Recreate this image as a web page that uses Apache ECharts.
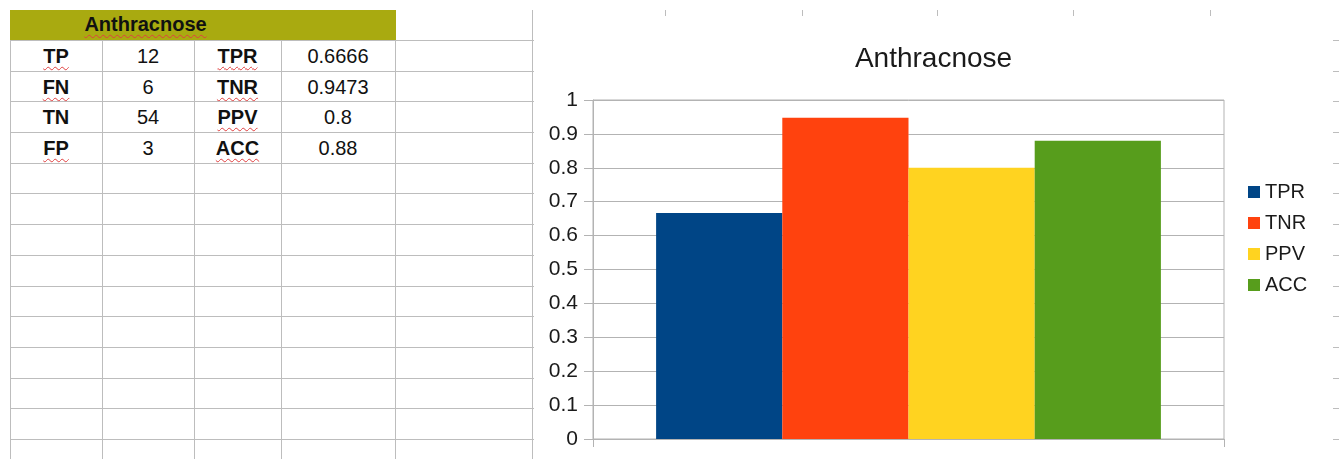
<!DOCTYPE html>
<html>
<head>
<meta charset="utf-8">
<title>Anthracnose</title>
<script src="https://cdn.jsdelivr.net/npm/echarts@6/dist/echarts.min.js"></script>
<style>
  html, body { margin: 0; padding: 0; background: #fff; }
  body { width: 1339px; height: 459px; position: relative; overflow: hidden;
         font-family: "Liberation Sans", Arial, sans-serif; }
  #sheet { position: absolute; left: 0; top: 0; width: 1339px; height: 459px; }
  .hl { position: absolute; height: 1px; background: #bdbdbd; }
  .vl { position: absolute; width: 1px; background: #bdbdbd; }
  .fill { position: absolute; background: #a9aa10; }
  .cell { position: absolute; display: flex; align-items: center; justify-content: center;
          font-size: 20px; color: #111; white-space: nowrap; }
  .b { font-weight: bold; }
  .sp { text-decoration: underline wavy #e04040; text-decoration-thickness: 1px;
        text-underline-offset: 3px; }
  #chart { position: absolute; left: 534px; top: 16px; width: 799px; height: 443px; }
</style>
</head>
<body>
<div id="sheet"></div>
<div id="chart"></div>
<script>
// ---- data ----
const title = 'Anthracnose';
const countLabels = ['TP', 'FN', 'TN', 'FP'];
const countValues = [12, 6, 54, 3];
const metricLabels = ['TPR', 'TNR', 'PPV', 'ACC'];
const metricValues = [0.6666, 0.9473, 0.8, 0.88];
const seriesColors = ['#004586', '#ff420e', '#ffd320', '#579d1c'];
// words the spell checker marks with a wavy underline
const flagged = ['Anthracnose', 'TP', 'FN', 'FP', 'TPR', 'TNR', 'PPV', 'ACC'];

// ---- spreadsheet grid ----
const FONT = '"Liberation Sans", Arial, sans-serif';
const sheet = document.getElementById('sheet');
const colEdges = [10, 102, 194, 281, 395, 532, 665, 802, 937, 1073, 1210];
const headerTop = 10, firstRow = 40, rowH = 30.69;
const rowEdges = [];
for (let y = firstRow; y < 470; y += rowH) rowEdges.push(Math.round(y));

function el(cls, css, text) {
  const d = document.createElement('div');
  d.className = cls;
  Object.assign(d.style, css);
  if (text !== undefined) {
    const s = document.createElement('span');
    s.textContent = text;
    if (flagged.includes(text)) s.className = 'sp';
    d.appendChild(s);
  }
  sheet.appendChild(d);
  return d;
}

// header band (A1:C1 merged, D1 filled too)
el('fill', { left: colEdges[0] + 'px', top: headerTop + 'px',
             width: (colEdges[4] - colEdges[0] + 1) + 'px', height: (firstRow - headerTop) + 'px' });
el('cell b', { left: colEdges[0] + 'px', top: (headerTop - 1) + 'px',
               width: (colEdges[3] - colEdges[0]) + 'px', height: (firstRow - headerTop) + 'px' }, title);

// horizontal lines
rowEdges.forEach(y => el('hl', { left: colEdges[0] + 'px', top: y + 'px', width: (1339 - colEdges[0]) + 'px' }));
// vertical lines
colEdges.forEach((x, i) => {
  const top = i <= 4 ? firstRow : headerTop;
  el('vl', { left: x + 'px', top: top + 'px', height: (459 - top) + 'px' });
});

// table contents
countLabels.forEach((lab, r) => {
  const top = rowEdges[r], h = rowEdges[r + 1] - rowEdges[r];
  const cols = [[lab, 'cell b'], [String(countValues[r]), 'cell'],
                [metricLabels[r], 'cell b'], [String(metricValues[r]), 'cell']];
  cols.forEach(([txt, cls], c) => {
    el(cls, { left: colEdges[c] + 'px', top: (top + 1) + 'px',
              width: (colEdges[c + 1] - colEdges[c]) + 'px', height: h + 'px' }, txt);
  });
});

// ---- chart ----
const chart = echarts.init(document.getElementById('chart'), null, { renderer: 'canvas' });
const gray = '#b3b3b3';
chart.setOption({
  backgroundColor: '#ffffff',
  animation: false,
  textStyle: { fontFamily: FONT },
  title: {
    text: title, left: 'center', top: 24,
    textStyle: { fontFamily: FONT, fontSize: 28, fontWeight: 'normal', color: '#1a1a1a' }
  },
  legend: {
    orient: 'vertical', left: 709, top: 161,
    itemWidth: 12, itemHeight: 12, itemGap: 11, icon: 'rect',
    textStyle: { fontFamily: FONT, fontSize: 20, color: '#1a1a1a' },
    data: metricLabels
  },
  grid: {
    left: 59, top: 84, width: 631, height: 339,
    show: true, borderColor: gray, borderWidth: 1, backgroundColor: 'transparent',
    containLabel: false, outerBoundsMode: 'none'
  },
  xAxis: {
    type: 'category', data: [title],
    axisLine: { lineStyle: { color: gray } },
    axisTick: { show: true, length: 8, lineStyle: { color: gray } },
    axisLabel: { show: false },
    splitLine: { show: false }
  },
  yAxis: {
    type: 'value', min: 0, max: 1, interval: 0.1,
    axisLine: { show: true, lineStyle: { color: gray } },
    axisTick: { show: true, length: 9, lineStyle: { color: gray } },
    axisLabel: { fontFamily: FONT, fontSize: 21, color: '#1a1a1a', margin: 15 },
    splitLine: { show: true, lineStyle: { color: gray, width: 1 } }
  },
  series: metricLabels.map((name, i) => ({
    name, type: 'bar', data: [metricValues[i]],
    itemStyle: { color: seriesColors[i] },
    barGap: '0%', barCategoryGap: '20%'
  }))
});
</script>
</body>
</html>
